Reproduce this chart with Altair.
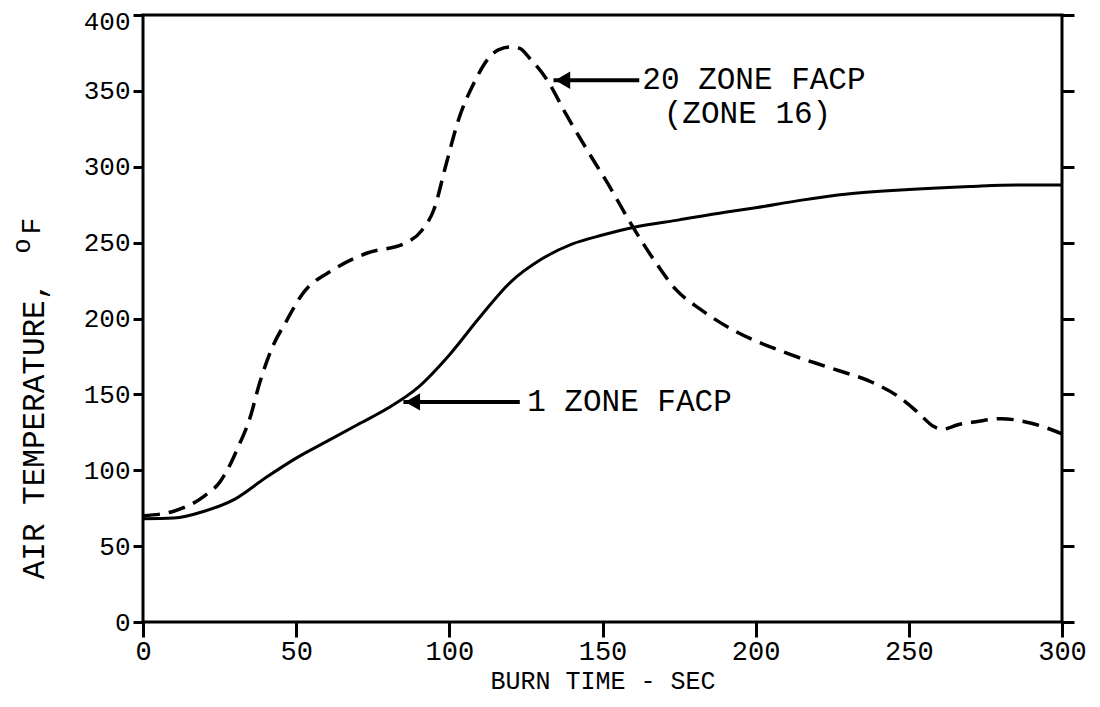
import altair as alt
import pandas as pd

# 1 ZONE FACP (solid)
t_one = [0, 10, 20, 30, 40, 50, 60, 70, 80, 90, 100, 110, 120, 130, 140, 150, 160, 175, 190, 200, 215, 230, 250, 270, 285, 300]
v_one = [68, 68.5, 73, 81, 95, 108, 119, 130, 141, 155, 176, 201, 224, 239, 249, 255, 260, 265, 270, 273, 278, 282, 285, 287, 288, 288]

# 20 ZONE FACP (ZONE 16) (dashed)
t_twenty = [0, 10, 20, 25, 28, 31, 35, 38, 42, 47, 52, 62, 73, 86, 91, 95, 99, 103, 108, 113, 116, 120, 123, 126, 132, 138, 145, 152, 160, 167, 174, 182, 193, 209, 225, 238, 247, 253, 258, 261, 266, 272, 280, 290, 300]
v_twenty = [70, 73, 83, 92, 102, 115, 135, 157, 180, 199, 216, 232, 243, 250, 258, 272, 302, 331, 355, 372, 377, 379, 378, 372, 357, 335, 311, 288, 260, 238, 219, 206, 192, 178, 167, 158, 148, 138, 129, 127, 130, 132, 134, 131, 124]

# annotations
ann_text = ["20 ZONE FACP", "(ZONE 16)", "1 ZONE FACP"]
ann_t = [163, 170, 125.4]
ann_v = [357, 335, 145]
arrow_tip_t = [134, 85]
arrow_tail_t = [162, 123]
arrow_v = [357, 145]

FONT = "Liberation Mono"

df_one = pd.DataFrame({"t": t_one, "v": v_one})
df_twenty = pd.DataFrame({"t": t_twenty, "v": v_twenty})
df_ann = pd.DataFrame({"label": ann_text, "t": ann_t, "v": ann_v})
df_arrow = pd.DataFrame({"t": arrow_tip_t, "t2": arrow_tail_t, "v": arrow_v})
df_head = pd.DataFrame({"t": [x + 3 for x in arrow_tip_t], "v": arrow_v})

xscale = alt.Scale(domain=[0, 300], nice=False, zero=False)
yscale = alt.Scale(domain=[0, 400], nice=False, zero=False)

xaxis = alt.Axis(
    values=[0, 50, 100, 150, 200, 250, 300],
    title="BURN TIME - SEC",
    titleFont=FONT, titleFontSize=25, titleFontWeight="normal", titleColor="black",
    titlePadding=4,
    labelFont=FONT, labelFontSize=27, labelColor="black", labelPadding=1,
    tickSize=15, tickWidth=3, tickColor="black",
    domain=False, grid=False, labelFlush=False,
)
yaxis = alt.Axis(
    values=[0, 50, 100, 150, 200, 250, 300, 350, 400],
    title="AIR TEMPERATURE,",
    titleFont=FONT, titleFontSize=31, titleFontWeight="normal", titleColor="black",
    titleX=-100, titleY=415, titleBaseline="alphabetic",
    labelFont=FONT, labelFontSize=26, labelColor="black", labelPadding=3,
    labelOffset={"condition": {"test": "datum.value == 400", "value": 6}, "value": 0},
    tickSize=10, tickWidth=3, tickColor="black",
    domain=False, grid=False, labelFlush=False,
)
yaxis_right = alt.Axis(
    orient="right",
    values=[0, 50, 100, 150, 200, 250, 300, 350, 400],
    title=None, labels=False,
    tickSize=12, tickWidth=3, tickColor="black",
    domain=False, grid=False,
)

X = alt.X("t:Q", scale=xscale, axis=xaxis)

solid = alt.Chart(df_one).mark_line(
    color="black", strokeWidth=3, interpolate="monotone"
).encode(
    x=X,
    y=alt.Y("v:Q", scale=yscale, axis=yaxis),
)

dashed = alt.Chart(df_twenty).mark_line(
    color="black", strokeWidth=3.5, strokeDash=[17, 9], interpolate="monotone"
).encode(
    x=X,
    y=alt.Y("v:Q", scale=yscale, axis=yaxis_right),
)

arrows = alt.Chart(df_arrow).mark_rule(color="black", strokeWidth=4).encode(
    x=X,
    x2="t2:Q",
    y=alt.Y("v:Q", scale=yscale, axis=None),
)

heads = alt.Chart(df_head).mark_point(
    shape="triangle-left", filled=True, color="black", size=300, opacity=1
).encode(
    x=X,
    y=alt.Y("v:Q", scale=yscale, axis=None),
)

labels = alt.Chart(df_ann).mark_text(
    font=FONT, fontSize=31, color="black", align="left", baseline="middle"
).encode(
    x=X,
    y=alt.Y("v:Q", scale=yscale, axis=None),
    text="label:N",
)

unit_o = alt.Chart(pd.DataFrame({"s": ["o"]})).mark_text(
    font=FONT, fontSize=25, color="black", angle=270, align="center", baseline="middle"
).encode(x=alt.value(-121), y=alt.value(231), text="s:N")

unit_f = alt.Chart(pd.DataFrame({"s": ["F"]})).mark_text(
    font=FONT, fontSize=28, color="black", angle=270, align="center", baseline="middle"
).encode(x=alt.value(-111), y=alt.value(211), text="s:N")

chart = alt.layer(solid, dashed, arrows, heads, labels, unit_o, unit_f).resolve_axis(
    y="independent"
).properties(
    width=919, height=607,
    padding={"left": 135, "top": 7, "right": 30, "bottom": 76},
    autosize=alt.AutoSizeParams(type="none"),
    background="white",
).configure_view(
    stroke="black", strokeWidth=3
).configure_axis(
    titleFont=FONT, labelFont=FONT
)

chart.save("out.html", embed_options={"renderer": "svg", "actions": False})
